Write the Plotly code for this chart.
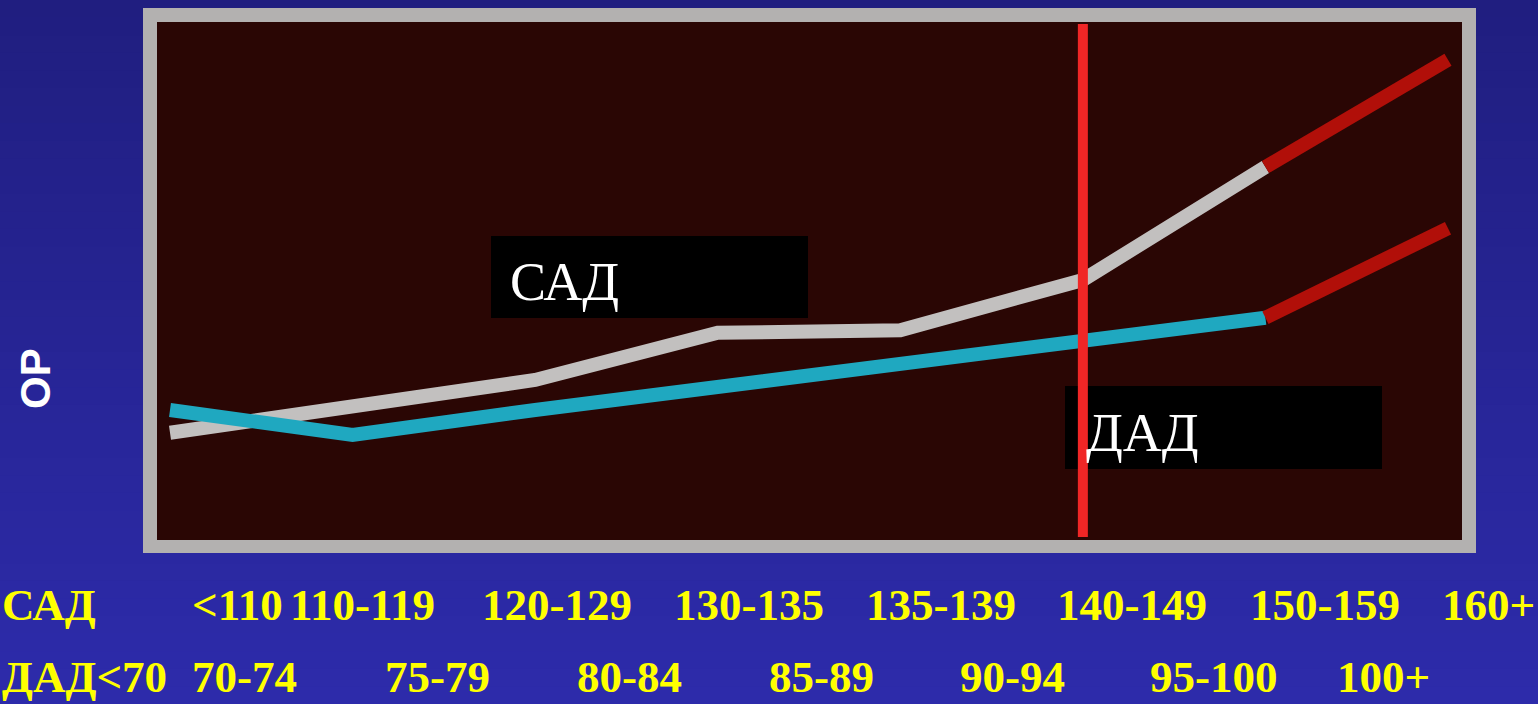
import plotly.graph_objects as go

# Relative risk by blood-pressure category
idx = [0, 1, 2, 3, 4, 5, 6, 7]
sad_or = [2.07, 2.56, 3.09, 4.00, 4.05, 5.02, 7.20, 9.27]   # systolic (САД)
dad_or = [2.51, 2.03, 2.51, 2.94, 3.38, 3.82, 4.29, 6.02]   # diastolic (ДАД)
threshold_idx = 5

sad_labels = ["<110", "110-119", "120-129", "130-135", "135-139", "140-149", "150-159", "160+"]
dad_labels = ["ДАД<70", "70-74", "75-79", "80-84", "85-89", "90-94", "95-100", "100+"]

W, H = 1538, 704

def px(x):
    return x / W

def py(y):
    return 1 - y / H

GRAY = "#c2c0bf"
TEAL = "#1fa8c0"
DARKRED = "#b10f09"
RED = "#f02626"
MAROON = "#2a0604"
YELLOW = "#ffff00"

fig = go.Figure()

def line(xs, ys, color):
    fig.add_trace(go.Scatter(x=xs, y=ys, mode="lines",
                             line=dict(color=color, width=14),
                             hoverinfo="skip", showlegend=False))

line(idx[:7], sad_or[:7], GRAY)
line(idx[6:], sad_or[6:], DARKRED)
line(idx[:7], dad_or[:7], TEAL)
line(idx[6:], dad_or[6:], DARKRED)

shapes = []

# vertical blue gradient background
n = 40
top = (32, 30, 128)
bot = (45, 43, 170)
for i in range(n):
    t = i / (n - 1)
    c = tuple(round(top[k] + (bot[k] - top[k]) * t) for k in range(3))
    shapes.append(dict(type="rect", xref="paper", yref="paper",
                       x0=0, x1=1, y0=1 - (i + 1) / n - 0.002, y1=1 - i / n,
                       fillcolor="rgb(%d,%d,%d)" % c, line=dict(width=0), layer="below"))

# frame and chart area
shapes.append(dict(type="rect", xref="paper", yref="paper",
                   x0=px(143), x1=px(1476), y0=py(553), y1=py(8),
                   fillcolor="#b3b1b0", line=dict(width=0), layer="below"))
shapes.append(dict(type="rect", xref="paper", yref="paper",
                   x0=px(157), x1=px(1462), y0=py(540), y1=py(22),
                   fillcolor=MAROON, line=dict(width=0), layer="below"))

# label boxes
shapes.append(dict(type="rect", xref="paper", yref="paper",
                   x0=px(491), x1=px(808), y0=py(318), y1=py(236),
                   fillcolor="black", line=dict(width=0), layer="above"))
shapes.append(dict(type="rect", xref="paper", yref="paper",
                   x0=px(1065), x1=px(1382), y0=py(469), y1=py(386),
                   fillcolor="black", line=dict(width=0), layer="above"))

# hypertension threshold
shapes.append(dict(type="line", xref="x", yref="paper",
                   x0=threshold_idx, x1=threshold_idx, y0=py(537), y1=py(24),
                   line=dict(color=RED, width=10), layer="above"))

annotations = [
    dict(text="САД", xref="paper", yref="paper", x=px(508), y=py(282),
         xanchor="left", yanchor="middle", showarrow=False,
         font=dict(family="Liberation Serif, Times New Roman, serif", size=54, color="white")),
    dict(text="ДАД", xref="paper", yref="paper", x=px(1084), y=py(433),
         xanchor="left", yanchor="middle", showarrow=False,
         font=dict(family="Liberation Serif, Times New Roman, serif", size=54, color="white")),
    dict(text="<b>ОР</b>", xref="paper", yref="paper", x=px(35), y=py(379),
         xanchor="center", yanchor="middle", textangle=-90, showarrow=False,
         font=dict(family="Liberation Sans, Arial, sans-serif", size=42, color="white")),
]

lab_font = dict(family="Liberation Serif, Times New Roman, serif", size=45, color=YELLOW)
sad_x = [190, 288, 480, 672, 864, 1055, 1248, 1440]
dad_x = [0, 190, 383, 575, 767, 958, 1148, 1335]
row1_y, row2_y = 605, 677

annotations.append(dict(text="<b>САД</b>", xref="paper", yref="paper", x=0, y=py(row1_y),
                        xanchor="left", yanchor="middle", showarrow=False, font=lab_font))
for t, x in zip(sad_labels, sad_x):
    annotations.append(dict(text="<b>%s</b>" % t.replace("<", "&lt;"), xref="paper", yref="paper",
                            x=px(x), y=py(row1_y), xanchor="left", yanchor="middle",
                            showarrow=False, font=lab_font))
for t, x in zip(dad_labels, dad_x):
    annotations.append(dict(text="<b>%s</b>" % t.replace("<", "&lt;"), xref="paper", yref="paper",
                            x=px(x), y=py(row2_y), xanchor="left", yanchor="middle",
                            showarrow=False, font=lab_font))

step = (1448 - 170) / 7
fig.update_layout(
    width=W, height=H,
    margin=dict(l=0, r=0, t=0, b=0),
    paper_bgcolor="#26249a",
    plot_bgcolor="rgba(0,0,0,0)",
    xaxis=dict(domain=[px(157), px(1462)],
               range=[-(170 - 157) / step, 7 + (1462 - 1448) / step],
               visible=False, fixedrange=True),
    yaxis=dict(domain=[py(540), py(22)], range=[0, 10],
               visible=False, fixedrange=True),
    shapes=shapes,
    annotations=annotations,
)

fig.write_html("out.html")
